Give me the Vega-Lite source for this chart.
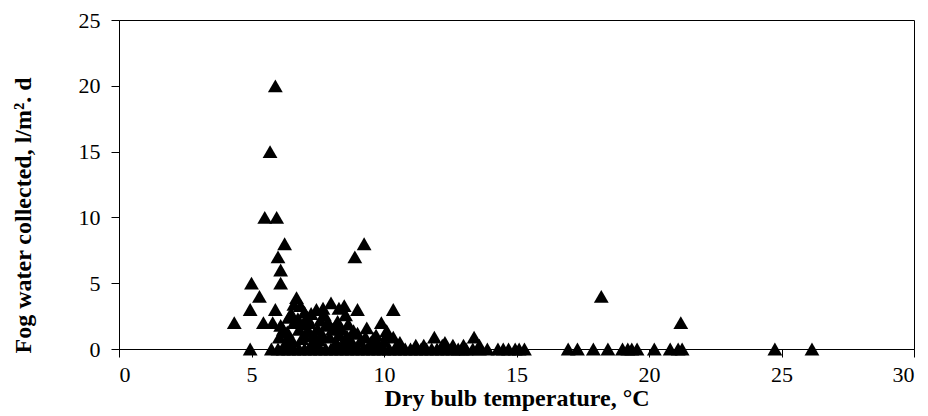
{
  "$schema": "https://vega.github.io/schema/vega-lite/v6.json",
  "autosize": "none",
  "width": 795,
  "height": 329,
  "padding": {"left": 119, "top": 20, "right": 14, "bottom": 67},
  "background": "white",
  "config": {
    "view": {"stroke": "black", "strokeWidth": 1},
    "font": "Liberation Serif"
  },
  "data": {
    "values": [
      {"t": 5.9, "w": 20}, {"t": 5.7, "w": 15}, {"t": 5.5, "w": 10}, {"t": 5.95, "w": 10},
      {"t": 6.25, "w": 8}, {"t": 6.0, "w": 7}, {"t": 6.1, "w": 6}, {"t": 6.1, "w": 5},
      {"t": 5.0, "w": 5}, {"t": 5.3, "w": 4}, {"t": 4.95, "w": 3}, {"t": 4.35, "w": 2},
      {"t": 4.95, "w": 0}, {"t": 5.9, "w": 3}, {"t": 5.45, "w": 2}, {"t": 5.8, "w": 2},
      {"t": 6.4, "w": 2.4}, {"t": 6.7, "w": 3.9}, {"t": 6.85, "w": 3.3}, {"t": 7.0, "w": 2.8},
      {"t": 7.45, "w": 3.0}, {"t": 7.7, "w": 3.1}, {"t": 8.0, "w": 3.5}, {"t": 8.3, "w": 3.1},
      {"t": 8.5, "w": 3.3}, {"t": 9.0, "w": 3.0}, {"t": 8.9, "w": 7}, {"t": 9.25, "w": 8},
      {"t": 10.35, "w": 3.0}, {"t": 9.9, "w": 2.0}, {"t": 8.3, "w": 1.1}, {"t": 9.3, "w": 0.9},
      {"t": 9.7, "w": 1.05}, {"t": 10.1, "w": 1.05}, {"t": 10.35, "w": 0.9}, {"t": 11.9, "w": 0.9},
      {"t": 13.4, "w": 0.9}, {"t": 18.2, "w": 4}, {"t": 21.2, "w": 2},
      {"t": 6.2, "w": 1.5}, {"t": 6.4, "w": 1.0}, {"t": 6.6, "w": 2.0}, {"t": 6.8, "w": 1.5},
      {"t": 7.0, "w": 1.0}, {"t": 7.2, "w": 2.0}, {"t": 7.3, "w": 0.5}, {"t": 7.5, "w": 1.5},
      {"t": 7.7, "w": 1.0}, {"t": 7.9, "w": 2.0}, {"t": 8.05, "w": 1.5}, {"t": 8.2, "w": 0.5},
      {"t": 8.4, "w": 1.5}, {"t": 8.6, "w": 1.0}, {"t": 8.8, "w": 0.5}, {"t": 9.0, "w": 1.2},
      {"t": 9.5, "w": 0.5}, {"t": 9.8, "w": 0.3}, {"t": 6.3, "w": 0.5}, {"t": 6.5, "w": 2.7},
      {"t": 7.1, "w": 2.4}, {"t": 7.8, "w": 1.8}, {"t": 8.15, "w": 1.7}, {"t": 8.7, "w": 0.7},
      {"t": 6.1, "w": 1.8}, {"t": 6.9, "w": 0.8}, {"t": 7.4, "w": 0.3}, {"t": 7.6, "w": 2.2},
      {"t": 6.05, "w": 0.9}, {"t": 6.35, "w": 1.3}, {"t": 6.55, "w": 0.6}, {"t": 6.75, "w": 2.3},
      {"t": 6.95, "w": 1.9}, {"t": 7.15, "w": 1.4}, {"t": 7.35, "w": 1.1}, {"t": 7.55, "w": 0.7},
      {"t": 7.75, "w": 2.6}, {"t": 7.95, "w": 0.9}, {"t": 8.25, "w": 2.1}, {"t": 8.45, "w": 0.4},
      {"t": 8.65, "w": 1.9}, {"t": 8.85, "w": 1.4}, {"t": 9.1, "w": 0.6}, {"t": 9.35, "w": 1.6},
      {"t": 9.6, "w": 0.8}, {"t": 6.6, "w": 3.4}, {"t": 7.25, "w": 2.7}, {"t": 8.55, "w": 2.6},
      {"t": 10.6, "w": 0.5}, {"t": 11.2, "w": 0.3}, {"t": 11.5, "w": 0.3}, {"t": 12.2, "w": 0.3},
      {"t": 12.6, "w": 0.3}, {"t": 13.0, "w": 0.3}, {"t": 13.6, "w": 0.3}, {"t": 12.3, "w": 0.5},
      {"t": 10.0, "w": 0.6}, {"t": 10.5, "w": 0.3}, {"t": 10.1, "w": 1.4},
      {"t": 5.75, "w": 0}, {"t": 6.0, "w": 0}, {"t": 6.2, "w": 0}, {"t": 6.4, "w": 0},
      {"t": 6.6, "w": 0}, {"t": 6.8, "w": 0}, {"t": 7.0, "w": 0}, {"t": 7.2, "w": 0},
      {"t": 7.4, "w": 0}, {"t": 7.6, "w": 0}, {"t": 7.8, "w": 0}, {"t": 8.0, "w": 0},
      {"t": 8.2, "w": 0}, {"t": 8.4, "w": 0}, {"t": 8.6, "w": 0}, {"t": 8.8, "w": 0},
      {"t": 9.0, "w": 0}, {"t": 9.2, "w": 0}, {"t": 9.4, "w": 0}, {"t": 9.6, "w": 0},
      {"t": 9.8, "w": 0}, {"t": 10.0, "w": 0}, {"t": 10.2, "w": 0}, {"t": 10.4, "w": 0},
      {"t": 10.6, "w": 0}, {"t": 10.8, "w": 0}, {"t": 11.0, "w": 0}, {"t": 11.2, "w": 0},
      {"t": 11.4, "w": 0}, {"t": 11.6, "w": 0}, {"t": 11.8, "w": 0}, {"t": 12.0, "w": 0},
      {"t": 12.2, "w": 0}, {"t": 12.4, "w": 0}, {"t": 12.6, "w": 0}, {"t": 12.8, "w": 0},
      {"t": 12.95, "w": 0}, {"t": 13.1, "w": 0}, {"t": 13.35, "w": 0}, {"t": 13.6, "w": 0},
      {"t": 13.9, "w": 0}, {"t": 14.3, "w": 0}, {"t": 14.5, "w": 0}, {"t": 14.7, "w": 0},
      {"t": 14.95, "w": 0}, {"t": 15.1, "w": 0}, {"t": 15.3, "w": 0},
      {"t": 16.95, "w": 0}, {"t": 17.3, "w": 0}, {"t": 17.9, "w": 0}, {"t": 18.45, "w": 0},
      {"t": 19.0, "w": 0}, {"t": 19.2, "w": 0}, {"t": 19.35, "w": 0}, {"t": 19.55, "w": 0},
      {"t": 20.2, "w": 0}, {"t": 20.8, "w": 0}, {"t": 21.1, "w": 0}, {"t": 21.25, "w": 0},
      {"t": 24.75, "w": 0}, {"t": 26.15, "w": 0}
    ]
  },
  "mark": {"type": "point", "shape": "triangle-up", "filled": true, "size": 220, "color": "black", "opacity": 1, "clip": false},
  "encoding": {
    "x": {
      "field": "t", "type": "quantitative",
      "scale": {"domain": [0, 30], "nice": false, "zero": false},
      "axis": {
        "title": "Dry bulb temperature, °C",
        "values": [0, 5, 10, 15, 20, 25, 30],
        "grid": false, "domainColor": "black", "tickColor": "black",
        "tickSize": 8, "labelPadding": 7,
        "labelFont": "Liberation Serif", "labelFontSize": 22, "labelColor": "black",
        "titleFont": "Liberation Serif", "titleFontSize": 24, "titleFontWeight": "bold",
        "titleColor": "black", "titlePadding": 1
      }
    },
    "y": {
      "field": "w", "type": "quantitative",
      "scale": {"domain": [0, 25], "nice": false},
      "axis": {
        "title": "Fog water collected, l/m². d",
        "values": [0, 5, 10, 15, 20, 25],
        "grid": false, "domainColor": "black", "tickColor": "black",
        "tickSize": 8, "labelPadding": 11,
        "labelFont": "Liberation Serif", "labelFontSize": 22, "labelColor": "black",
        "titleFont": "Liberation Serif", "titleFontSize": 24, "titleFontWeight": "bold",
        "titleColor": "black",
        "titleAngle": -90, "titleX": -96, "titleY": 195,
        "titleAlign": "center", "titleBaseline": "middle"
      }
    }
  }
}
